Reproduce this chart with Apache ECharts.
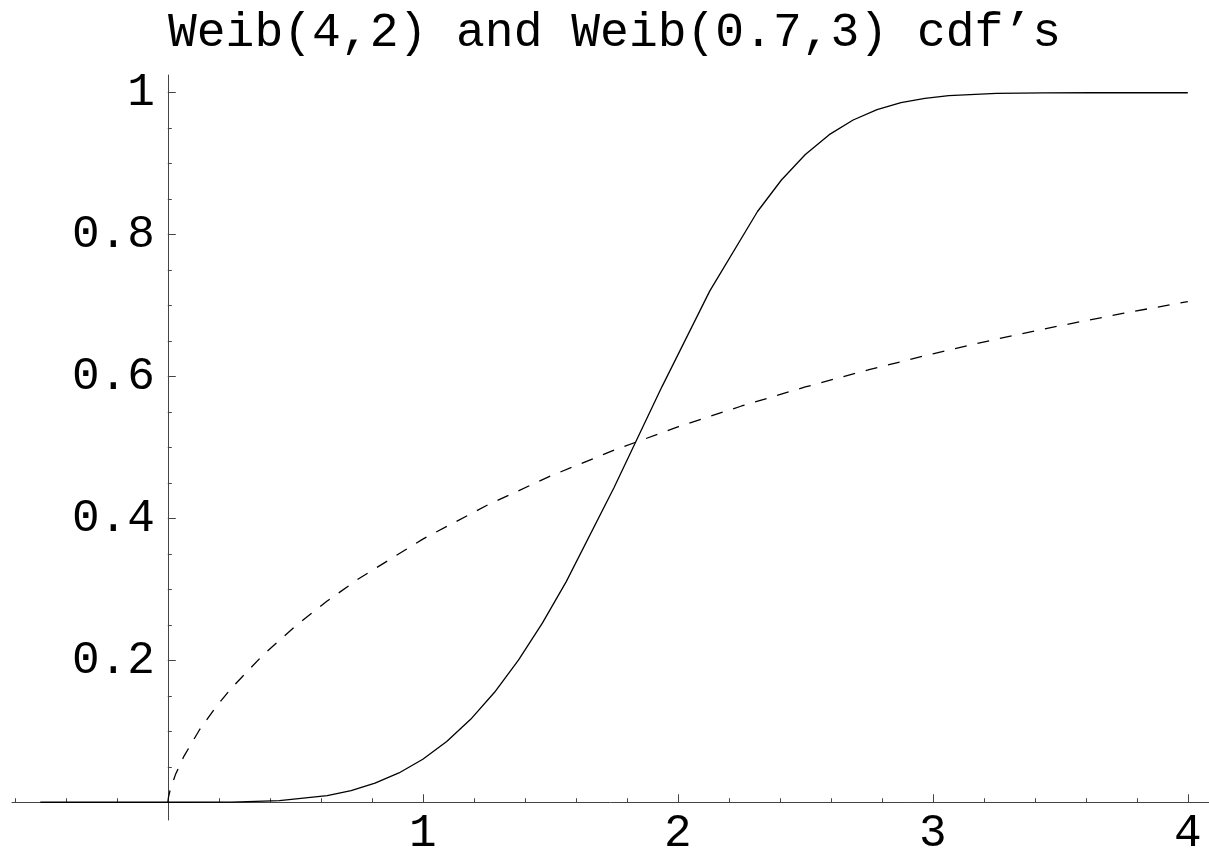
<!DOCTYPE html>
<html>
<head>
<meta charset="utf-8">
<script src="https://cdn.jsdelivr.net/npm/echarts@6/dist/echarts.min.js"></script>
<style>
html,body{margin:0;padding:0;background:#fff;}
#chart{width:1209px;height:855px;}
</style>
</head>
<body>
<div id="chart"></div>
<script>
const titleText = "Weib(4,2) and Weib(0.7,3) cdf\u2019s";

// Weib(4,2) cdf (solid)
const solidX = [-0.5, -0.3125, -0.125, 0.0625, 0.25, 0.4375, 0.625, 0.71875, 0.8125, 0.90625, 1.0, 1.09375, 1.1875, 1.28125, 1.375, 1.46875, 1.5625, 1.75, 1.9375, 2.125, 2.3125, 2.40625, 2.5, 2.59375, 2.6875, 2.78125, 2.875, 2.96875, 3.0625, 3.25, 3.4375, 3.625, 3.8125, 4.0];
const solidY = [0, 0, 0, 0, 0.0002, 0.0023, 0.0095, 0.0165, 0.0269, 0.0413, 0.0606, 0.0856, 0.1169, 0.1550, 0.2002, 0.2524, 0.3110, 0.4436, 0.5855, 0.7204, 0.8326, 0.8770, 0.9130, 0.9409, 0.9616, 0.9762, 0.9860, 0.9922, 0.9959, 0.9991, 0.9998, 1.0, 1.0, 1.0];

// Weib(0.7,3) cdf (dashed)
const dashX = [0, 0.003, 0.01, 0.03, 0.0625, 0.125, 0.1875, 0.25, 0.375, 0.5, 0.625, 0.75, 1.0, 1.25, 1.5, 1.75, 2.0, 2.25, 2.5, 2.75, 3.0, 3.25, 3.5, 3.75, 4.0];
const dashY = [0, 0.0079, 0.0183, 0.0390, 0.0644, 0.1025, 0.1338, 0.1611, 0.2081, 0.2482, 0.2836, 0.3154, 0.3709, 0.4183, 0.4597, 0.4963, 0.5290, 0.5585, 0.5853, 0.6098, 0.6321, 0.6528, 0.6717, 0.6893, 0.7057];

// ticks and labels
const xMinorTicks = [-0.6, -0.4, -0.2, 0.2, 0.4, 0.6, 0.8, 1.2, 1.4, 1.6, 1.8, 2.2, 2.4, 2.6, 2.8, 3.2, 3.4, 3.6, 3.8];
const xMajorTicks = [1, 2, 3, 4];
const xLabels = [1, 2, 3, 4];
const yMinorTicks = [0.05, 0.1, 0.15, 0.25, 0.3, 0.35, 0.45, 0.5, 0.55, 0.65, 0.7, 0.75, 0.85, 0.9, 0.95];
const yMajorTicks = [0.2, 0.4, 0.6, 0.8, 1];
const yLabels = [0.2, 0.4, 0.6, 0.8, 1];

const xRange = [-0.611, 4.083];
const yRange = [-0.025, 1.025];

const FONT = "'Liberation Mono', 'DejaVu Sans Mono', monospace";
const AXIS_COLOR = '#444';

const solidData = solidX.map((x, i) => [x, solidY[i]]);
const dashData = dashX.map((x, i) => [x, dashY[i]]);

const chart = echarts.init(document.getElementById('chart'), null, {renderer: 'canvas'});

const labelStyle = {color: '#000', fontFamily: FONT, fontSize: 46};
const GRID = {left: 12, right: 0, top: 75, bottom: 35};
// distance between grid edges and the zero lines (derived from the ranges)
const chartW = 1209, chartH = 855;
const plotW = chartW - GRID.left - GRID.right;
const plotH = chartH - GRID.top - GRID.bottom;
const yZeroOffset = plotH * (0 - yRange[0]) / (yRange[1] - yRange[0]);
const xZeroOffset = plotW * (0 - xRange[0]) / (xRange[1] - xRange[0]);

chart.setOption({
  animation: false,
  backgroundColor: '#fff',
  title: {
    text: titleText,
    left: 163,
    top: 4,
    textStyle: {color: '#000', fontFamily: FONT, fontSize: 48, fontWeight: 'normal'}
  },
  grid: Object.assign({containLabel: false, outerBoundsMode: 'none'}, GRID),
  xAxis: [
    {
      type: 'value', min: xRange[0], max: xRange[1], position: 'bottom',
      axisLine: {show: true, onZero: true, onZeroAxisIndex: 0, lineStyle: {color: AXIS_COLOR, width: 1}},
      axisTick: {show: true, inside: true, length: 4, customValues: xMinorTicks, lineStyle: {color: AXIS_COLOR, width: 1}},
      axisLabel: {show: false},
      splitLine: {show: false}
    },
    {
      type: 'value', min: xRange[0], max: xRange[1], position: 'bottom',
      axisLine: {show: false, onZero: true, onZeroAxisIndex: 0},
      axisTick: {show: true, inside: true, length: 8, customValues: xMajorTicks, lineStyle: {color: AXIS_COLOR, width: 1}},
      axisLabel: {show: false},
      splitLine: {show: false}
    },
    {
      type: 'value', min: xRange[0], max: xRange[1], position: 'bottom',
      offset: -yZeroOffset,
      axisLine: {show: false, onZero: false},
      axisTick: {show: false},
      axisLabel: Object.assign({show: true, margin: 9, customValues: xLabels, formatter: v => String(v)}, labelStyle),
      splitLine: {show: false}
    }
  ],
  yAxis: [
    {
      type: 'value', min: yRange[0], max: yRange[1], position: 'left',
      axisLine: {show: true, onZero: true, onZeroAxisIndex: 0, lineStyle: {color: AXIS_COLOR, width: 1}},
      axisTick: {show: true, inside: true, length: 4, customValues: yMinorTicks, lineStyle: {color: AXIS_COLOR, width: 1}},
      axisLabel: {show: false},
      splitLine: {show: false}
    },
    {
      type: 'value', min: yRange[0], max: yRange[1], position: 'left',
      axisLine: {show: false, onZero: true, onZeroAxisIndex: 0},
      axisTick: {show: true, inside: true, length: 8, customValues: yMajorTicks, lineStyle: {color: AXIS_COLOR, width: 1}},
      axisLabel: {show: false},
      splitLine: {show: false}
    },
    {
      type: 'value', min: yRange[0], max: yRange[1], position: 'left',
      offset: -xZeroOffset,
      axisLine: {show: false, onZero: false},
      axisTick: {show: false},
      axisLabel: Object.assign({show: true, margin: 13, customValues: yLabels, formatter: v => String(v)}, labelStyle),
      splitLine: {show: false}
    }
  ],
  series: [
    {
      type: 'line', name: 'Weib(4,2)', data: solidData, xAxisIndex: 0, yAxisIndex: 0,
      showSymbol: false, symbol: 'none', smooth: false,
      lineStyle: {color: '#000', width: 1.3, type: 'solid'}
    },
    {
      type: 'line', name: 'Weib(0.7,3)', data: dashData, xAxisIndex: 0, yAxisIndex: 0,
      showSymbol: false, symbol: 'none', smooth: false,
      lineStyle: {color: '#000', width: 1.3, type: [12, 11]}
    }
  ]
});
</script>
</body>
</html>
